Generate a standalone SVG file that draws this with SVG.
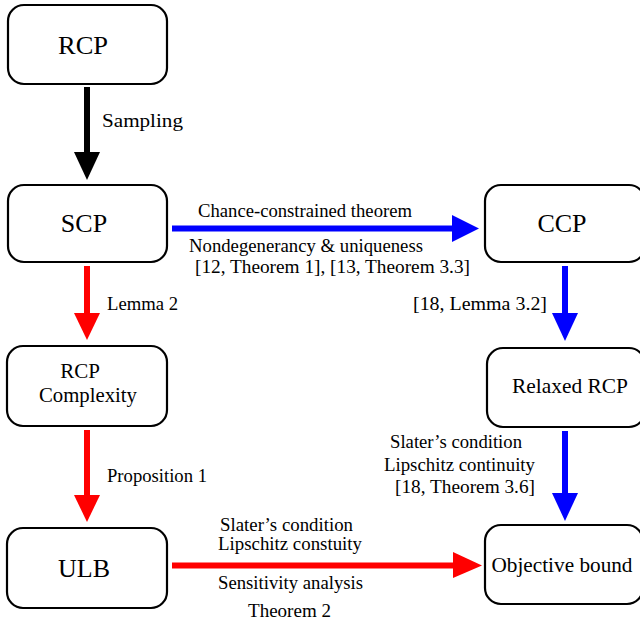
<svg xmlns="http://www.w3.org/2000/svg" width="640" height="629" viewBox="0 0 640 629">
<style>
.box{fill:#fff;stroke:#000;stroke-width:2.2}
text{font-family:"Liberation Serif","Times New Roman",serif;fill:#000}
.big{font-size:26px;text-anchor:middle}
.mid{font-size:21px;text-anchor:middle}
.lbl{font-size:19px}
.blk{stroke:#000;stroke-width:6}
.red{stroke:#ff0000;stroke-width:6}
.blu{stroke:#0000ff;stroke-width:6}
</style>
<rect width="640" height="629" fill="#fff"/>
<g id="connectors">
  <line class="blk" x1="87" y1="87" x2="87" y2="154"/>
  <polygon points="74,152 100,152 87,180" fill="#000"/>
  <line class="blu" x1="172" y1="228.5" x2="454" y2="228.5"/>
  <polygon points="452,215 452,242 479,228.5" fill="#0000ff"/>
  <line class="blu" x1="565" y1="266" x2="565" y2="315"/>
  <polygon points="552,313 578,313 565,341" fill="#0000ff"/>
  <line class="blu" x1="565" y1="431" x2="565" y2="495"/>
  <polygon points="552,493 578,493 565,521" fill="#0000ff"/>
  <line class="red" x1="87" y1="266" x2="87" y2="315"/>
  <polygon points="74,313 100,313 87,340" fill="#ff0000"/>
  <line class="red" x1="87" y1="430" x2="87" y2="497"/>
  <polygon points="74,495 100,495 87,522" fill="#ff0000"/>
  <line class="red" x1="172" y1="565.5" x2="456" y2="565.5"/>
  <polygon points="453,552 453,578 482,565.5" fill="#ff0000"/>
  <text class="lbl" x="102" y="127" textLength="81" lengthAdjust="spacingAndGlyphs">Sampling</text>
  <text class="lbl" x="198" y="217" textLength="214" lengthAdjust="spacingAndGlyphs">Chance-constrained theorem</text>
  <text class="lbl" x="189" y="252" textLength="234" lengthAdjust="spacingAndGlyphs">Nondegenerancy &amp; uniqueness</text>
  <text class="lbl" x="195" y="273" textLength="275" lengthAdjust="spacingAndGlyphs">[12, Theorem 1], [13, Theorem 3.3]</text>
  <text class="lbl" x="107" y="310" textLength="71" lengthAdjust="spacingAndGlyphs">Lemma 2</text>
  <text class="lbl" x="107" y="482" textLength="100" lengthAdjust="spacingAndGlyphs">Proposition 1</text>
  <text class="lbl" x="413" y="310" textLength="134" lengthAdjust="spacingAndGlyphs">[18,  Lemma 3.2]</text>
  <text class="lbl" x="390" y="448" textLength="132" lengthAdjust="spacingAndGlyphs">Slater’s condition</text>
  <text class="lbl" x="384" y="471" textLength="151" lengthAdjust="spacingAndGlyphs">Lipschitz continuity</text>
  <text class="lbl" x="395" y="493" textLength="140" lengthAdjust="spacingAndGlyphs">[18,  Theorem 3.6]</text>
  <text class="lbl" x="220" y="531" textLength="133" lengthAdjust="spacingAndGlyphs">Slater’s condition</text>
  <text class="lbl" x="218" y="550" textLength="144" lengthAdjust="spacingAndGlyphs">Lipschitz constuity</text>
  <text class="lbl" x="218" y="589" textLength="145" lengthAdjust="spacingAndGlyphs">Sensitivity analysis</text>
  <text class="lbl" x="248" y="617" textLength="83" lengthAdjust="spacingAndGlyphs">Theorem 2</text>
</g>
<g id="rcp">
  <rect class="box" x="8" y="5" width="159" height="79" rx="16"/>
  <text class="big" x="83" y="54" textLength="50" lengthAdjust="spacingAndGlyphs">RCP</text>
</g>
<g id="scp">
  <rect class="box" x="8" y="185" width="159" height="77" rx="16"/>
  <text class="big" x="84" y="232">SCP</text>
</g>
<g id="ccp">
  <rect class="box" x="485" y="185" width="160" height="77" rx="16"/>
  <text class="big" x="562" y="232">CCP</text>
</g>
<g id="rcp-complexity">
  <rect class="box" x="7" y="346" width="160" height="80" rx="16"/>
  <text class="mid" x="80" y="378">RCP</text>
  <text class="mid" x="88" y="402" textLength="98" lengthAdjust="spacingAndGlyphs">Complexity</text>
</g>
<g id="relaxed-rcp">
  <rect class="box" x="487" y="348" width="158" height="79" rx="16"/>
  <text class="mid" x="570" y="393" textLength="116" lengthAdjust="spacingAndGlyphs">Relaxed RCP</text>
</g>
<g id="ulb">
  <rect class="box" x="7" y="528" width="160" height="80" rx="16"/>
  <text class="big" x="84" y="577">ULB</text>
</g>
<g id="objective-bound">
  <rect class="box" x="485" y="525" width="158" height="79" rx="16"/>
  <text class="mid" x="562" y="572" textLength="141" lengthAdjust="spacingAndGlyphs">Objective bound</text>
</g>
</svg>
